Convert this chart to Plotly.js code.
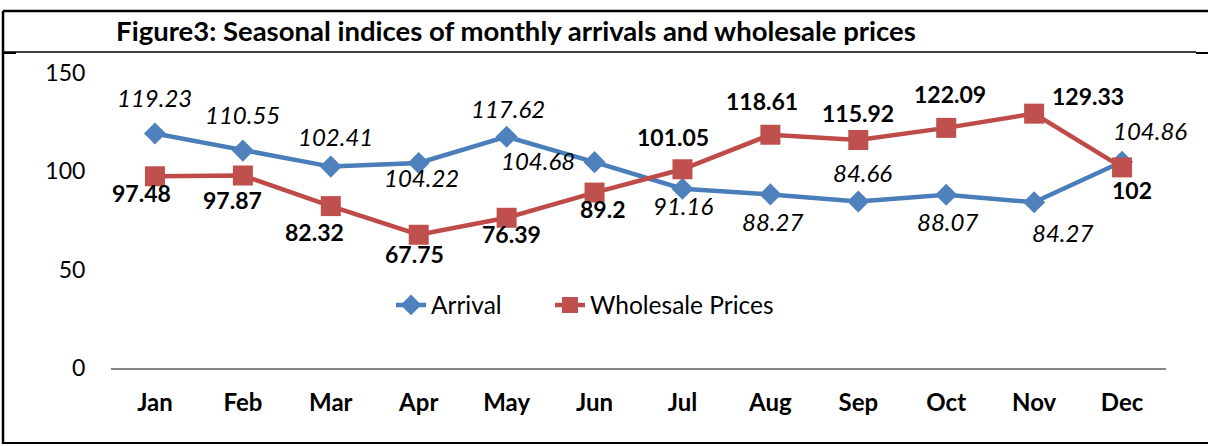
<!DOCTYPE html>
<html>
<head>
<meta charset="utf-8">
<script src="https://cdn.plot.ly/plotly-3.0.1.min.js"></script>
<style>
html,body{margin:0;padding:0;background:#fff;}
#chart{width:1208px;height:446px;}
</style>
</head>
<body>
<div id="chart"></div>
<script>
// ---- data ----
const months = ["Jan","Feb","Mar","Apr","May","Jun","Jul","Aug","Sep","Oct","Nov","Dec"];
const arrival = [119.23,110.55,102.41,104.22,117.62,104.68,91.16,88.27,84.66,88.07,84.27,104.86];
const wholesale = [97.48,97.87,82.32,67.75,76.39,89.2,101.05,118.61,115.92,122.09,129.33,102];
const yTicks = [0,50,100,150];
const titleText = "Figure3: Seasonal indices of monthly arrivals and wholesale prices";

// label offsets (pixels) relative to each point
const arrDx = [0,0,5,3,1,-57,1,2,4,1,28,28];
const arrDy = [36,36,30,-14,28,2,-17,-27,29,-27,-30,31];
const whDx = [-13,-10,-16,-4,5,8,-9,-8,0,4,54,10];
const whDy = [-17,-24,-26,-19,-16,-16,32,34,27,34,18,-23];

const FONT = "Lato, 'Open Sans', sans-serif";
const BLUE = "#4A7EBB";
const RED = "#BE4B48";

const traces = [
  {
    x: months, y: arrival, name: "Arrival", type: "scatter", mode: "lines+markers",
    line: {color: BLUE, width: 4.5},
    marker: {symbol: "diamond", size: 17, color: "#4F81BD", line: {width: 0}},
    hoverinfo: "skip", legend: "legend"
  },
  {
    x: months, y: wholesale, name: "Wholesale Prices", type: "scatter", mode: "lines+markers",
    line: {color: RED, width: 4.5},
    marker: {symbol: "square", size: 20, color: "#C0504D", line: {width: 0}},
    hoverinfo: "skip", legend: "legend2"
  }
];

const annotations = [];
months.forEach((m, i) => {
  annotations.push({
    x: m, y: arrival[i], xref: "x", yref: "y", text: String(arrival[i].toFixed(2)),
    showarrow: false, xanchor: "center", yanchor: "middle",
    xshift: arrDx[i], yshift: arrDy[i],
    font: {family: FONT, size: 24, color: "#000", style: "italic"}
  });
  annotations.push({
    x: m, y: wholesale[i], xref: "x", yref: "y", text: String(wholesale[i]),
    showarrow: false, xanchor: "center", yanchor: "middle",
    xshift: whDx[i], yshift: whDy[i],
    font: {family: FONT, size: 23, color: "#000", weight: "bold"}
  });
});

const L = 111, R = 1166, T = 73, B = 368;
const px = v => (v - L) / (R - L);
const py = v => (B - v) / (B - T);
const line = (x0,y0,x1,y1,w) => ({type:"line", xref:"paper", yref:"paper",
  x0:px(x0), y0:py(y0), x1:px(x1), y1:py(y1), line:{color:"#000", width:w}, layer:"above"});

const shapes = [
  line(3, 11, 1210, 11, 2.5),
  line(3, 11, 3, 444, 2.5),
  line(3, 443, 1210, 443, 2),
  line(3, 52, 1196, 52, 1.3),
  line(3, 53, 16, 53, 2),
  line(1196, 53, 1210, 53, 2)
];

const legendBase = {
  orientation: "h", xanchor: "left", y: py(305), yanchor: "middle",
  font: {family: FONT, size: 24.5, color: "#000"},
  bgcolor: "rgba(0,0,0,0)", borderwidth: 0
};

const layout = {
  width: 1208, height: 446,
  margin: {l: L, r: 1208 - R, t: T, b: 446 - B},
  paper_bgcolor: "#fff", plot_bgcolor: "#fff",
  font: {family: FONT, color: "#000"},
  title: {
    text: "<b>" + titleText + "</b>",
    xref: "container", yref: "container",
    x: 516/1208, xanchor: "center",
    y: 1 - 31/446, yanchor: "middle",
    font: {family: FONT, size: 27.5, color: "#000"}
  },
  xaxis: {
    type: "category", categoryarray: months, range: [-0.5, 11.5], autorange: false,
    showgrid: false, zeroline: false,
    showline: true, linecolor: "#868686", linewidth: 1.5,
    ticks: "outside", ticklen: 13, tickcolor: "rgba(0,0,0,0)",
    tickfont: {family: FONT, size: 24, color: "#000", weight: "bold"},
    fixedrange: true
  },
  yaxis: {
    range: [0, 150], autorange: false, tickvals: yTicks, ticktext: yTicks.map(String),
    showgrid: false, zeroline: false, showline: false,
    ticks: "outside", ticklen: 20, tickcolor: "rgba(0,0,0,0)",
    tickfont: {family: FONT, size: 23, color: "#000"},
    fixedrange: true
  },
  legend: Object.assign({}, legendBase, {x: px(391)}),
  legend2: Object.assign({}, legendBase, {x: px(550)}),
  showlegend: true,
  annotations: annotations,
  shapes: shapes
};

Plotly.newPlot("chart", traces, layout, {displayModeBar: false, staticPlot: true});
</script>
</body>
</html>
